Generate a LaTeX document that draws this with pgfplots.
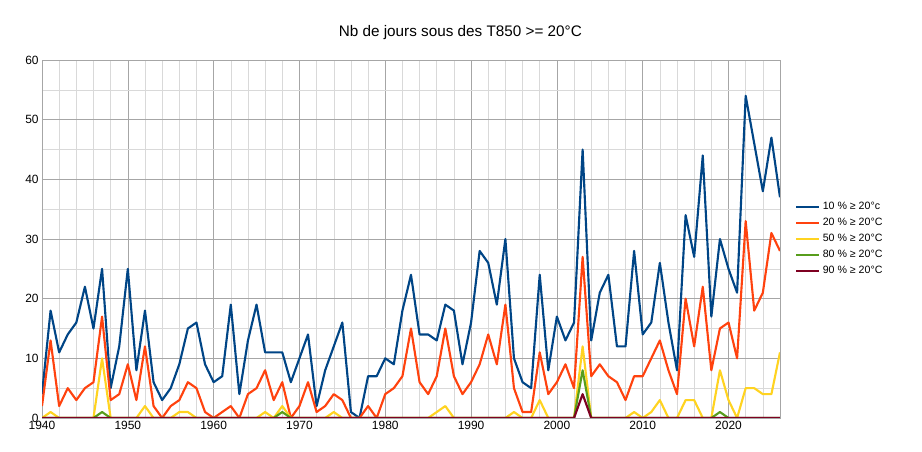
\documentclass[border=0pt]{standalone}
\usepackage{pgfplots}
\pgfplotsset{compat=1.18}
\usepackage{fontspec}
\setmainfont{Liberation Sans}
\definecolor{cb}{HTML}{004586}
\definecolor{cr}{HTML}{FF420E}
\definecolor{cy}{HTML}{FFD320}
\definecolor{cg}{HTML}{579D1C}
\definecolor{cmaroon}{HTML}{7E0021}
\begin{document}
\begin{tikzpicture}
\useasboundingbox (-31.5bp,-25.5bp) rectangle (660bp,313.5bp);
\begin{axis}[
  at={(0,0)}, anchor=south west,
  scale only axis, width=553.5bp, height=268.5bp,
  xmin=1940, xmax=2026, ymin=0, ymax=60,
  xtick={1940,1950,...,2020}, ytick={0,10,...,60},
  minor xtick={1942,1944,...,2026}, minor ytick={5,15,...,55},
  grid=both, major grid style={gray!70}, minor grid style={gray!30},
  axis line style={gray!70}, tick style={draw=none},
  xticklabel style={/pgf/number format/1000 sep={}, yshift=1bp},
  yticklabel style={xshift=1bp},
  /pgf/number format/assume math mode=true,
  tick label style={font=\fontsize{9}{10}\selectfont},
  title={Nb de jours sous des T850 >= 20°C},
  title style={font=\fontsize{11.5}{13}\selectfont, yshift=6bp, xshift=37bp},
  legend style={at={(1.015,0.5)}, anchor=west, draw=none, font=\fontsize{8}{9.5}\selectfont, row sep=1pt},
  legend cell align=left,
  every axis plot/.append style={line width=1.6pt, line join=round},
]
\addplot[cb] coordinates {(1940,4)(1941,18)(1942,11)(1943,14)(1944,16)(1945,22)(1946,15)(1947,25)(1948,5)(1949,12)(1950,25)(1951,8)(1952,18)(1953,6)(1954,3)(1955,5)(1956,9)(1957,15)(1958,16)(1959,9)(1960,6)(1961,7)(1962,19)(1963,4)(1964,13)(1965,19)(1966,11)(1967,11)(1968,11)(1969,6)(1970,10)(1971,14)(1972,2)(1973,8)(1974,12)(1975,16)(1976,1)(1977,0)(1978,7)(1979,7)(1980,10)(1981,9)(1982,18)(1983,24)(1984,14)(1985,14)(1986,13)(1987,19)(1988,18)(1989,9)(1990,16)(1991,28)(1992,26)(1993,19)(1994,30)(1995,10)(1996,6)(1997,5)(1998,24)(1999,8)(2000,17)(2001,13)(2002,16)(2003,45)(2004,13)(2005,21)(2006,24)(2007,12)(2008,12)(2009,28)(2010,14)(2011,16)(2012,26)(2013,16)(2014,8)(2015,34)(2016,27)(2017,44)(2018,17)(2019,30)(2020,25)(2021,21)(2022,54)(2023,46)(2024,38)(2025,47)(2026,37)};
\addlegendentry{10 \% ≥ 20°c}
\addplot[cr] coordinates {(1940,2)(1941,13)(1942,2)(1943,5)(1944,3)(1945,5)(1946,6)(1947,17)(1948,3)(1949,4)(1950,9)(1951,3)(1952,12)(1953,2)(1954,0)(1955,2)(1956,3)(1957,6)(1958,5)(1959,1)(1960,0)(1961,1)(1962,2)(1963,0)(1964,4)(1965,5)(1966,8)(1967,3)(1968,6)(1969,0)(1970,2)(1971,6)(1972,1)(1973,2)(1974,4)(1975,3)(1976,0)(1977,0)(1978,2)(1979,0)(1980,4)(1981,5)(1982,7)(1983,15)(1984,6)(1985,4)(1986,7)(1987,15)(1988,7)(1989,4)(1990,6)(1991,9)(1992,14)(1993,9)(1994,19)(1995,5)(1996,1)(1997,1)(1998,11)(1999,4)(2000,6)(2001,9)(2002,5)(2003,27)(2004,7)(2005,9)(2006,7)(2007,6)(2008,3)(2009,7)(2010,7)(2011,10)(2012,13)(2013,8)(2014,4)(2015,20)(2016,12)(2017,22)(2018,8)(2019,15)(2020,16)(2021,10)(2022,33)(2023,18)(2024,21)(2025,31)(2026,28)};
\addlegendentry{20 \% ≥ 20°C}
\addplot[cy] coordinates {(1940,0)(1941,1)(1942,0)(1946,0)(1947,10)(1948,0)(1951,0)(1952,2)(1953,0)(1955,0)(1956,1)(1957,1)(1958,0)(1965,0)(1966,1)(1967,0)(1968,2)(1969,0)(1973,0)(1974,1)(1975,0)(1985,0)(1986,1)(1987,2)(1988,0)(1994,0)(1995,1)(1996,0)(1997,0)(1998,3)(1999,0)(2002,0)(2003,12)(2004,0)(2008,0)(2009,1)(2010,0)(2011,1)(2012,3)(2013,0)(2014,0)(2015,3)(2016,3)(2017,0)(2018,0)(2019,8)(2020,3)(2021,0)(2022,5)(2023,5)(2024,4)(2025,4)(2026,11)};
\addlegendentry{50 \% ≥ 20°C}
\addplot[cg] coordinates {(1940,0)(1946,0)(1947,1)(1948,0)(1967,0)(1968,1)(1969,0)(2002,0)(2003,8)(2004,0)(2018,0)(2019,1)(2020,0)(2026,0)};
\addlegendentry{80 \% ≥ 20°C}
\addplot[cmaroon] coordinates {(1940,0)(2002,0)(2003,4)(2004,0)(2026,0)};
\addlegendentry{90 \% ≥ 20°C}
\end{axis}
\end{tikzpicture}
\end{document}
